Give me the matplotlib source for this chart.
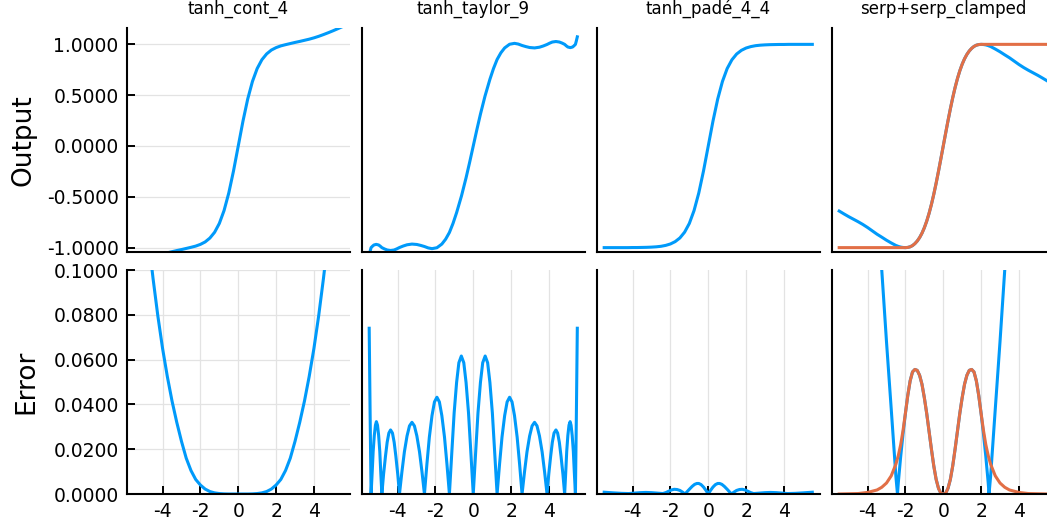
import matplotlib
matplotlib.use("Agg")
import matplotlib.pyplot as plt

BLUE = "#009AFA"
ORANGE = "#E26F46"

titles = ["tanh_cont_4", "tanh_taylor_9", "tanh_padé_4_4", "serp+serp_clamped"]
row_labels = ["Output", "Error"]
out_ticks = [-1.0, -0.5, 0.0, 0.5, 1.0]
out_tick_labels = ["-1.0000", "-0.5000", "0.0000", "0.5000", "1.0000"]
err_ticks = [0.0, 0.02, 0.04, 0.06, 0.08, 0.1]
err_tick_labels = ["0.0000", "0.0200", "0.0400", "0.0600", "0.0800", "0.1000"]
x_ticks = [-4, -2, 0, 2, 4]
x_tick_labels = ["-4", "-2", "0", "2", "4"]

# shared sample grid
X = [-5.5, -5.25, -5.0, -4.75, -4.5, -4.25, -4.0, -3.75, -3.5, -3.25, -3.0, -2.75,
     -2.5, -2.25, -2.0, -1.75, -1.5, -1.25, -1.0, -0.75, -0.5, -0.25, 0.0, 0.25,
     0.5, 0.75, 1.0, 1.25, 1.5, 1.75, 2.0, 2.25, 2.5, 2.75, 3.0, 3.25, 3.5, 3.75,
     4.0, 4.25, 4.5, 4.75, 5.0, 5.25, 5.5]

# tanh_cont_4
cont4_out = [-1.174, -1.153, -1.133, -1.114, -1.096, -1.079, -1.064, -1.051, -1.040, -1.029,
             -1.019, -1.008, -0.997, -0.985, -0.968, -0.944, -0.906, -0.849, -0.762, -0.635,
             -0.462, -0.245, 0.0, 0.245, 0.462, 0.635, 0.762, 0.849, 0.906, 0.944, 0.968,
             0.985, 0.997, 1.008, 1.019, 1.029, 1.040, 1.051, 1.064, 1.079, 1.096, 1.114,
             1.133, 1.153, 1.174]
cont4_err = [0.174, 0.153, 0.133, 0.114, 0.096, 0.0795, 0.065, 0.0525, 0.0415, 0.032, 0.0235,
             0.016, 0.0105, 0.0065, 0.004, 0.0022, 0.0011, 0.0005, 0.0002, 0.00005, 0.0, 0.0,
             0.0,
             0.0, 0.0, 0.00005, 0.0002, 0.0005, 0.0011, 0.0022, 0.004, 0.0065, 0.0105, 0.016,
             0.0235, 0.032, 0.0415, 0.0525, 0.065, 0.0795, 0.096, 0.114, 0.133, 0.153, 0.174]

# tanh_taylor_9
taylor_out_x = [-5.50, -5.45, -5.40, -5.32, -5.25, -5.13, -5.00, -4.92, -4.83, -4.69, -4.55,
                -4.37, -4.18, -4.04, -3.90, -3.70, -3.50, -3.24, -2.98, -2.78, -2.58, -2.38,
                -2.18, -1.92, -1.66, -1.46, -1.26, -1.07, -0.88, -0.62, -0.38, -0.19, 0.0,
                0.19, 0.38, 0.62, 0.88, 1.07, 1.26, 1.46, 1.66, 1.92, 2.18, 2.38, 2.58, 2.78,
                2.98, 3.24, 3.50, 3.70, 3.90, 4.04, 4.18, 4.37, 4.55, 4.69, 4.83, 4.92, 5.00,
                5.13, 5.25, 5.32, 5.40, 5.45, 5.50]
taylor_out = [-1.074, -1.035, -1.000, -0.985, -0.974, -0.968, -0.974, -0.985, -1.000, -1.013,
              -1.023, -1.028, -1.023, -1.012, -0.999, -0.984, -0.972, -0.965, -0.969, -0.978,
              -0.989, -1.003, -1.010, -1.001, -0.965, -0.917, -0.851, -0.762, -0.656, -0.490,
              -0.313, -0.160, 0.0, 0.160, 0.313, 0.490, 0.656, 0.762, 0.851, 0.917, 0.965,
              1.001, 1.010, 1.003, 0.989, 0.978, 0.969, 0.965, 0.972, 0.984, 0.999, 1.012,
              1.023, 1.028, 1.023, 1.013, 1.000, 0.985, 0.974, 0.968, 0.974, 0.985, 1.000,
              1.035, 1.074]
taylor_err_x = [-5.50, -5.45, -5.40, -5.34, -5.29, -5.23, -5.17, -5.12, -5.06, -5.00, -4.94,
                -4.89, -4.83, -4.74, -4.64, -4.55, -4.46, -4.37, -4.27, -4.18, -4.09, -3.99,
                -3.90, -3.77, -3.64, -3.50, -3.37, -3.24, -3.11, -2.98, -2.84, -2.71, -2.58,
                -2.45, -2.32, -2.18, -2.05, -1.92, -1.79, -1.66, -1.52, -1.39, -1.26, -1.13,
                -1.01, -0.88, -0.76, -0.63, -0.50, -0.38, -0.25, -0.13,
                0.0, 0.13, 0.25, 0.38, 0.50, 0.63, 0.76, 0.88, 1.01, 1.13, 1.26, 1.39, 1.52,
                1.66, 1.79, 1.92, 2.05, 2.18, 2.32, 2.45, 2.58, 2.71, 2.84, 2.98, 3.11, 3.24,
                3.37, 3.50, 3.64, 3.77, 3.90, 3.99, 4.09, 4.18, 4.27, 4.37, 4.46, 4.55, 4.64,
                4.74, 4.83, 4.89, 4.94, 5.00, 5.06, 5.12, 5.17, 5.23, 5.29, 5.34, 5.40, 5.45,
                5.50]
taylor_err = [0.074, 0.035, 0.0, 0.010, 0.019, 0.0261, 0.0307, 0.0323, 0.0307, 0.0261, 0.019,
              0.010, 0.0, 0.0088, 0.0168, 0.0231, 0.0272, 0.0286, 0.0272, 0.0231, 0.0168,
              0.0088, 0.0, 0.0099, 0.0188, 0.0259, 0.0304, 0.032, 0.0304, 0.0259, 0.0188,
              0.0099, 0.0, 0.0133, 0.0254, 0.035, 0.0411, 0.0432, 0.0411, 0.035, 0.0254,
              0.0133, 0.0, 0.019, 0.0362, 0.0498, 0.0586, 0.0616, 0.0586, 0.0498, 0.0362,
              0.019,
              0.0, 0.019, 0.0362, 0.0498, 0.0586, 0.0616, 0.0586, 0.0498, 0.0362, 0.019, 0.0,
              0.0133, 0.0254, 0.035, 0.0411, 0.0432, 0.0411, 0.035, 0.0254, 0.0133, 0.0,
              0.0099, 0.0188, 0.0259, 0.0304, 0.032, 0.0304, 0.0259, 0.0188, 0.0099, 0.0,
              0.0088, 0.0168, 0.0231, 0.0272, 0.0286, 0.0272, 0.0231, 0.0168, 0.0088, 0.0,
              0.010, 0.019, 0.0261, 0.0307, 0.0323, 0.0307, 0.0261, 0.019, 0.010, 0.0,
              0.035, 0.074]

# tanh_padé_4_4
pade_out = [-1.0, -1.0, -1.0, -1.0, -1.0, -1.0, -0.999, -0.999, -0.998, -0.997, -0.995,
            -0.992, -0.987, -0.978, -0.964, -0.941, -0.905, -0.848, -0.762, -0.635, -0.462,
            -0.245, 0.0, 0.245, 0.462, 0.635, 0.762, 0.848, 0.905, 0.941, 0.964, 0.978,
            0.987, 0.992, 0.995, 0.997, 0.998, 0.999, 0.999, 1.0, 1.0, 1.0, 1.0, 1.0, 1.0]
pade_err_x = [-5.5, -5.0, -4.6, -4.2, -3.9, -3.6, -3.3, -3.0, -2.7, -2.4, -2.25, -2.1, -1.95,
              -1.8, -1.65, -1.5, -1.35, -1.23, -1.12, -1.0, -0.85, -0.72, -0.6, -0.5, -0.38,
              -0.25, -0.12, 0.0, 0.12, 0.25, 0.38, 0.5, 0.6, 0.72, 0.85, 1.0, 1.12, 1.23,
              1.35, 1.5, 1.65, 1.8, 1.95, 2.1, 2.25, 2.4, 2.7, 3.0, 3.3, 3.6, 3.9, 4.2, 4.6,
              5.0, 5.5]
pade_err = [0.0008, 0.0005, 0.0003, 0.0002, 0.0004, 0.0006, 0.0007, 0.0006, 0.0004, 0.0002,
            0.0006, 0.0012, 0.0018, 0.0021, 0.002, 0.0016, 0.0008, 0.0, 0.001, 0.0021,
            0.0034, 0.0043, 0.0047, 0.0047, 0.0042, 0.0031, 0.0016, 0.0, 0.0016, 0.0031,
            0.0042, 0.0047, 0.0047, 0.0043, 0.0034, 0.0021, 0.001, 0.0, 0.0008, 0.0016,
            0.002, 0.0021, 0.0018, 0.0012, 0.0006, 0.0002, 0.0004, 0.0006, 0.0007, 0.0006,
            0.0004, 0.0002, 0.0003, 0.0005, 0.0008]

# serp (unclamped)
serp_x = [-5.5, -5.25, -5.0, -4.75, -4.5, -4.25, -4.0, -3.75, -3.5, -3.25, -3.0, -2.75, -2.5,
          -2.42, -2.375, -2.25, -2.125, -2.0, -1.875, -1.75, -1.625, -1.5, -1.375, -1.25,
          -1.125, -1.0, -0.875, -0.75, -0.625, -0.5, -0.375, -0.25, -0.125, 0.0, 0.125,
          0.25, 0.375, 0.5, 0.625, 0.75, 0.875, 1.0, 1.125, 1.25, 1.375, 1.5, 1.625, 1.75,
          1.875, 2.0, 2.125, 2.25, 2.375, 2.42, 2.5, 2.75, 3.0, 3.25, 3.5, 3.75, 4.0, 4.25,
          4.5, 4.75, 5.0, 5.25, 5.5]
serp_out = [-0.640, -0.668, -0.695, -0.720, -0.745, -0.772, -0.802, -0.835, -0.868, -0.897,
            -0.927, -0.954, -0.979, -0.9843, -0.988, -0.9947, -0.9985, -1.0, -0.998, -0.9919,
            -0.9798, -0.9607, -0.935, -0.9013, -0.8583, -0.8046, -0.7399, -0.6631, -0.5746,
            -0.4746, -0.3649, -0.2474, -0.1247, 0.0, 0.1247, 0.2474, 0.3649, 0.4746, 0.5746,
            0.6631, 0.7399, 0.8046, 0.8583, 0.9013, 0.935, 0.9607, 0.9798, 0.9919, 0.998,
            1.0, 0.9985, 0.9947, 0.988, 0.9843, 0.979, 0.954, 0.927, 0.897, 0.868, 0.835,
            0.802, 0.772, 0.745, 0.720, 0.695, 0.668, 0.640]
serp_err = [0.360, 0.332, 0.305, 0.280, 0.255, 0.228, 0.197, 0.164, 0.130, 0.100, 0.068,
            0.038, 0.0076, 0.0, 0.0051, 0.0167, 0.0269, 0.036, 0.044, 0.0505, 0.0545, 0.0556,
            0.0552, 0.053, 0.049, 0.043, 0.036, 0.028, 0.020, 0.0125, 0.0065, 0.0025, 0.0003,
            0.0, 0.0003, 0.0025, 0.0065, 0.0125, 0.020, 0.028, 0.036, 0.043, 0.049, 0.053,
            0.0552, 0.0556, 0.0545, 0.0505, 0.044, 0.036, 0.0269, 0.0167, 0.0051, 0.0,
            0.0076, 0.038, 0.068, 0.100, 0.130, 0.164, 0.197, 0.228, 0.255, 0.280, 0.305,
            0.332, 0.360]

# serp_clamped
clamp_x = [-5.5, -5.0, -4.5, -4.0, -3.5, -3.25, -3.0, -2.75, -2.5, -2.375, -2.25, -2.125,
           -2.0, -1.875, -1.75, -1.625, -1.5, -1.375, -1.25, -1.125, -1.0, -0.875, -0.75,
           -0.625, -0.5, -0.375, -0.25, -0.125, 0.0, 0.125, 0.25, 0.375, 0.5, 0.625, 0.75,
           0.875, 1.0, 1.125, 1.25, 1.375, 1.5, 1.625, 1.75, 1.875, 2.0, 2.125, 2.25, 2.375,
           2.5, 2.75, 3.0, 3.25, 3.5, 4.0, 4.5, 5.0, 5.5]
clamp_out = [-1.0, -1.0, -1.0, -1.0, -1.0, -1.0, -1.0, -1.0, -1.0, -1.0, -1.0, -1.0, -1.0,
             -0.998, -0.9919, -0.9798, -0.9607, -0.935, -0.9013, -0.8583, -0.8046, -0.7399,
             -0.6631, -0.5746, -0.4746, -0.3649, -0.2474, -0.1247, 0.0, 0.1247, 0.2474,
             0.3649, 0.4746, 0.5746, 0.6631, 0.7399, 0.8046, 0.8583, 0.9013, 0.935, 0.9607,
             0.9798, 0.9919, 0.998, 1.0, 1.0, 1.0, 1.0, 1.0, 1.0, 1.0, 1.0, 1.0, 1.0, 1.0,
             1.0, 1.0]
clamp_err = [0.0, 0.0001, 0.0002, 0.0007, 0.0018, 0.003, 0.0049, 0.0081, 0.0134, 0.0172,
             0.022, 0.0284, 0.036, 0.044, 0.0505, 0.0545, 0.0556, 0.0552, 0.053, 0.049, 0.043,
             0.036, 0.028, 0.020, 0.0125, 0.0065, 0.0025, 0.0003, 0.0, 0.0003, 0.0025,
             0.0065, 0.0125, 0.020, 0.028, 0.036, 0.043, 0.049, 0.053, 0.0552, 0.0556,
             0.0545, 0.0505, 0.044, 0.036, 0.0284, 0.022, 0.0172, 0.0134, 0.0081, 0.0049,
             0.003, 0.0018, 0.0007, 0.0002, 0.0001, 0.0]

top_series = [[(X, cont4_out, BLUE)],
              [(taylor_out_x, taylor_out, BLUE)],
              [(X, pade_out, BLUE)],
              [(serp_x, serp_out, BLUE), (clamp_x, clamp_out, ORANGE)]]
bot_series = [[(X, cont4_err, BLUE)],
              [(taylor_err_x, taylor_err, BLUE)],
              [(pade_err_x, pade_err, BLUE)],
              [(serp_x, serp_err, BLUE), (clamp_x, clamp_err, ORANGE)]]

plt.rcParams['font.family'] = ['DejaVu Sans']
W, H = 1047, 525
fig = plt.figure(figsize=(W / 100, H / 100), dpi=100)

col_left = [127, 362, 597, 832]
col_w = 222.5
rows_px = [(28, 252), (270, 494)]
XLIM = (-5.88, 5.88)
YLIMS = [(-1.043, 1.161), (0.0, 0.1)]
GRID = "#e3e3e3"
TICKFS = 13.5

for r in range(2):
    y0, y1 = rows_px[r]
    for c in range(4):
        ax = fig.add_axes([col_left[c] / W, 1 - y1 / H, col_w / W, (y1 - y0) / H])
        series = top_series[c] if r == 0 else bot_series[c]
        for xs, ys, col in series:
            ax.plot(xs, ys, color=col, linewidth=2.2, solid_joinstyle="round")
        ax.set_xlim(*XLIM)
        ax.set_ylim(*YLIMS[r])
        for s in ["top", "right"]:
            ax.spines[s].set_visible(False)
        for s in ["left", "bottom"]:
            ax.spines[s].set_linewidth(1.5)
            ax.spines[s].set_color("black")
        ax.set_axisbelow(True)
        ax.tick_params(direction="in", length=5.5, width=1.4, pad=6, colors="black")
        if r == 1:
            ax.set_xticks(x_ticks)
            ax.set_xticklabels(x_tick_labels, fontsize=TICKFS)
            ax.grid(True, axis="x", color=GRID, linewidth=0.9)
        else:
            ax.set_xticks([])
        if c == 0:
            yt = out_ticks if r == 0 else err_ticks
            yl = out_tick_labels if r == 0 else err_tick_labels
            ax.set_yticks(yt)
            ax.set_yticklabels(yl, fontsize=TICKFS)
            ax.grid(True, axis="y", color=GRID, linewidth=0.9)
        else:
            ax.set_yticks([])
        if r == 0:
            ax.set_title(titles[c], fontsize=12, pad=10)

fig.text(37 / W, 1 - 140 / H, row_labels[0], rotation=90, ha="right", va="center",
         fontsize=19)
fig.text(39 / W, 1 - 382 / H, row_labels[1], rotation=90, ha="right", va="center",
         fontsize=19)

fig.savefig("out.png", dpi=100)
